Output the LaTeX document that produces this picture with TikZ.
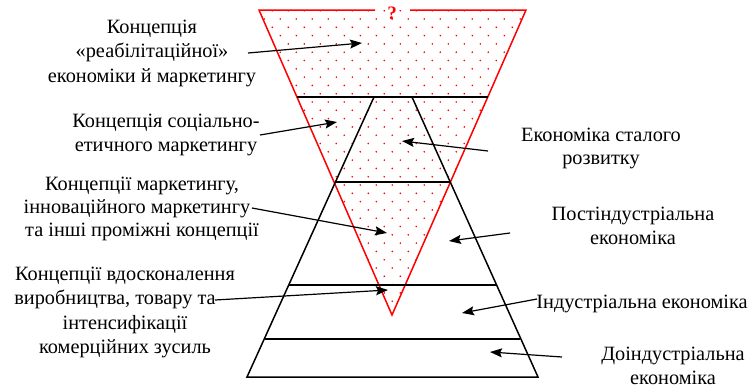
\documentclass[tikz,border=0pt]{standalone}
\usepackage{fontspec}
\setmainfont{Liberation Serif}
\usetikzlibrary{arrows.meta}

\begin{document}
\begin{tikzpicture}[x=1pt, y=-1pt,
    note/.style = {align=center, inner sep=0pt, font=\fontsize{20.3}{24.5}\selectfont},
    redline/.style = {draw=red, line width=1.5pt, line join=miter},
    tier/.style = {draw=black, line width=1.5pt},
    pointer/.style = {draw=black, line width=1.2pt, -{Stealth[length=12pt, width=9pt, inset=2pt]}}
]
\useasboundingbox (0,0) rectangle (753,389);

% Dotted red triangle
\begin{scope}
  \clip (259,10) -- (392,315) -- (526,10) -- cycle;
  \foreach \r in {0,...,36}
    \foreach \k in {0,...,17}
      \fill[red] ({256.3+16*\k+8*mod(\r,2)},{10.7+8.3*\r}) circle (0.9pt);
\end{scope}
\draw[redline] (375,10) -- (259,10) -- (392,315) -- (526,10) -- (410,10);
\node (Q) [text=red, font=\fontsize{19}{20}\selectfont\bfseries] at (392,13) {?};

% Black pyramid
\draw[tier] (374,97) -- (247,377) -- (538,377) -- (412,97);
\draw[tier] (297,97) -- (488,97);
\draw[tier] (336,182) -- (450,182);
\draw[tier] (289,285) -- (496,285);
\draw[tier] (265,339) -- (520,339);

% Concepts
\node (C1) [note] at (152,53) {Концепція\\«реабілітаційної»\\економіки й маркетингу};
\node (C2) [note] at (166,135) {Концепція соціально-\\етичного маркетингу};
\node (C3) [note, font=\fontsize{20.3}{23}\selectfont] at (142,208.5) {Концепції маркетингу,\\інноваційного маркетингу\rule{10pt}{0pt}\\та інші проміжні концепції};
\node (C4) [note] at (125,312.5) {Концепції вдосконалення\\виробництва, товару та\rule{20pt}{0pt}\\інтенсифікації\\комерційних зусиль};

% Economies
\node (E1) [note, font=\fontsize{20.3}{23.5}\selectfont] at (601,148.5) {Економіка сталого\\розвитку};
\node (E2) [note] at (633,226) {Постіндустріальна\\економіка};
\node (E3) [note] at (642,303.5) {Індустріальна економіка};
\node (E4) [note] at (673,366) {Доіндустріальна\\економіка};

% Arrow ends
\coordinate (T1) at (248,53);  \coordinate (H1) at (362,43);
\coordinate (T2) at (260,135); \coordinate (H2) at (337,122);
\coordinate (T3) at (252,208); \coordinate (H3) at (387,233);
\coordinate (T4) at (215,300); \coordinate (H4) at (388,290);
\coordinate (T5) at (488,151); \coordinate (H5) at (402,141);
\coordinate (T6) at (510,233); \coordinate (H6) at (449,241);
\coordinate (T7) at (537,299); \coordinate (H7) at (462,313);
\coordinate (T8) at (562,357); \coordinate (H8) at (490,352);

% Pointers
\foreach \i in {1,...,8}
  \draw[pointer] (T\i) -- (H\i);

\end{tikzpicture}
\end{document}
